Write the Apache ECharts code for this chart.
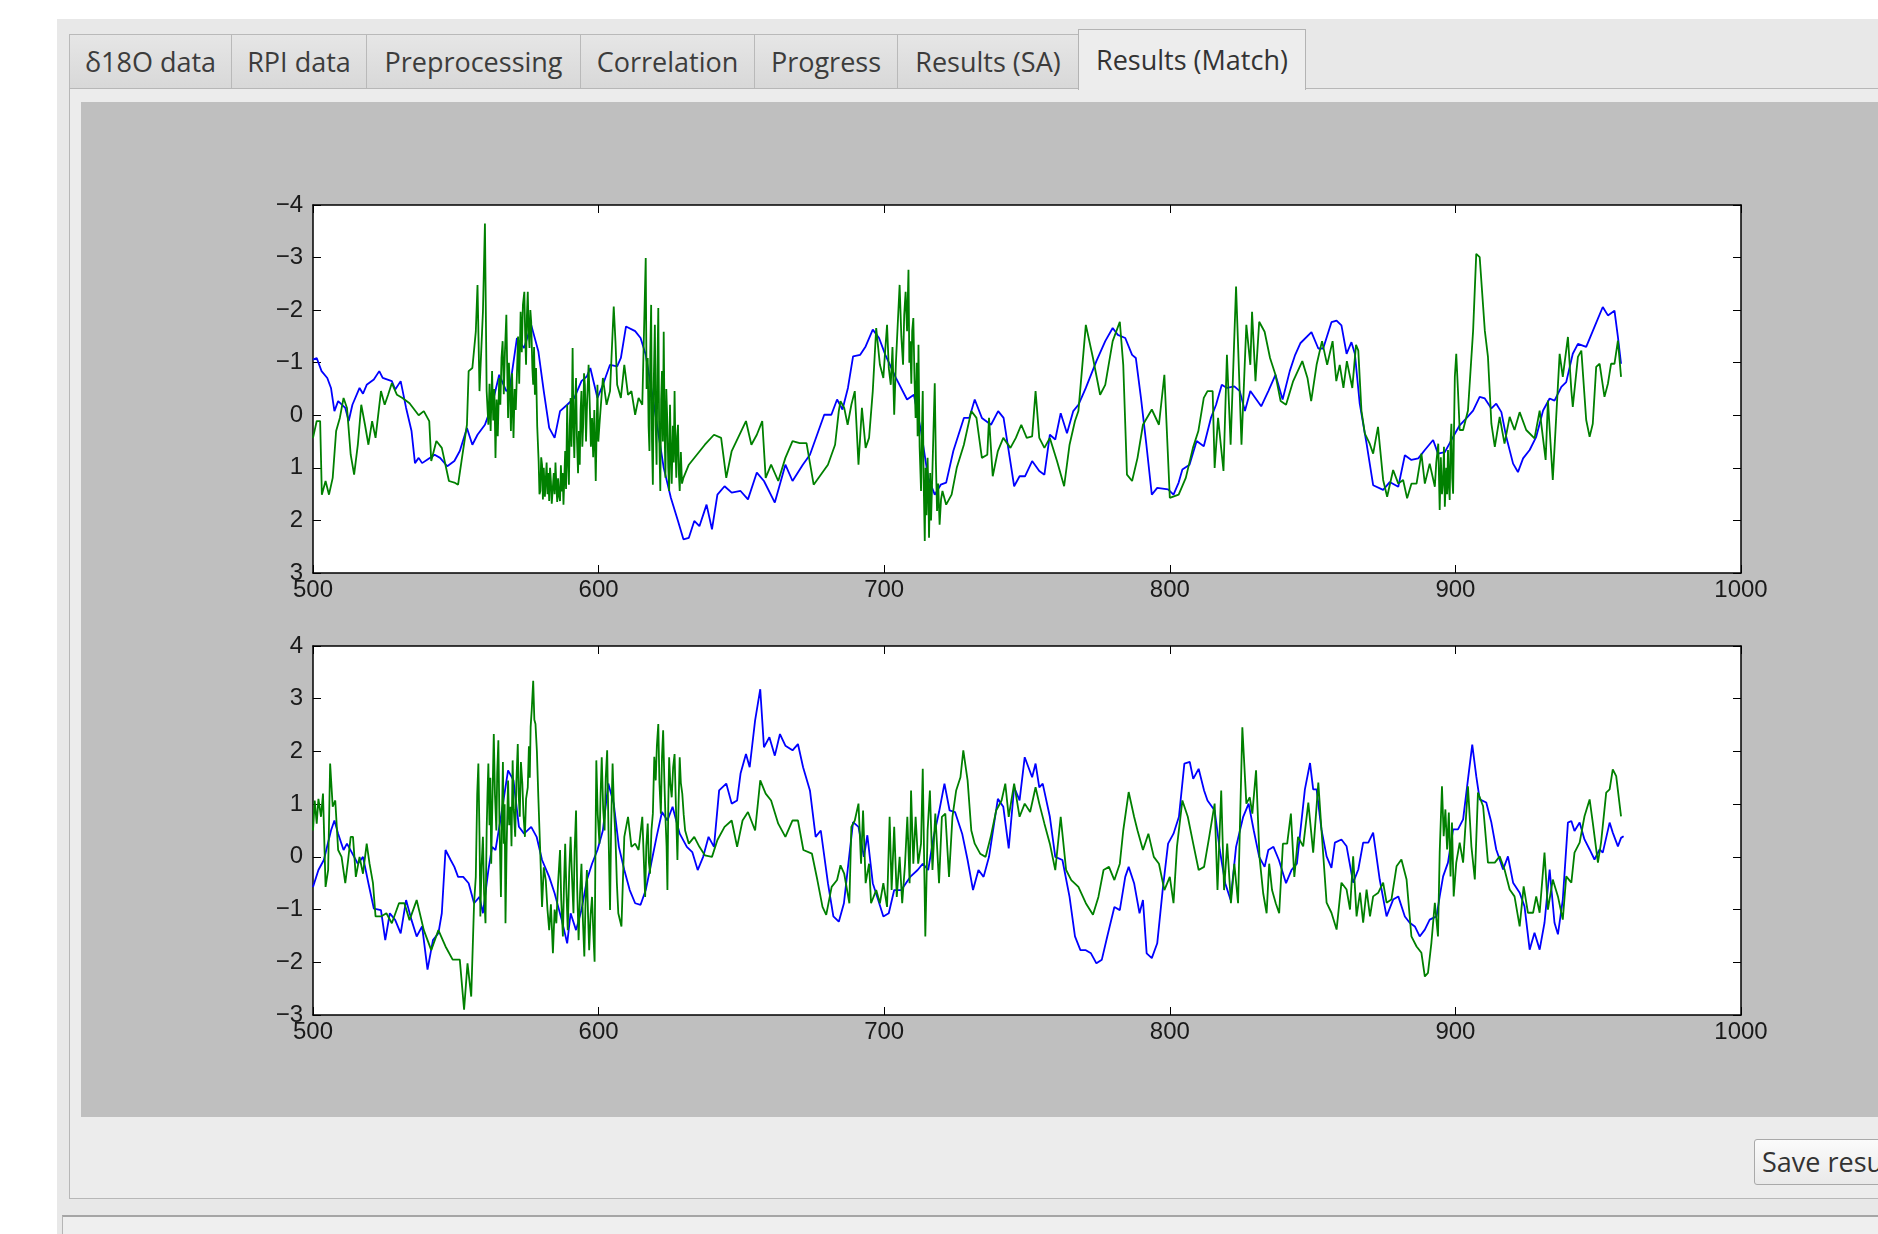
<!DOCTYPE html>
<html>
<head>
<meta charset="utf-8">
<title>Results (Match)</title>
<script src="https://cdn.jsdelivr.net/npm/echarts@6.0.0/dist/echarts.min.js"></script>
<style>
html, body { margin: 0; padding: 0; background: #fff; }
body { width: 1878px; height: 1234px; position: relative; overflow: hidden; font-family: "Open Sans", sans-serif; }
#win { position: absolute; left: 57px; top: 19px; right: 0; bottom: 0; background: #e8e8e8; }
.tab { position: absolute; top: 34px; height: 54px; box-sizing: border-box; border: 1px solid #b9b9b9; border-bottom: none;
  background: linear-gradient(#e6e6e6, #d8d8d8); color: #3c3c3c; font-size: 27px; line-height: 54px; text-align: center; white-space: nowrap; }
.tab.sel { top: 29px; height: 61px; background: #ededed; line-height: 60px; z-index: 2; border-color: #b3b3b3; color: #333; }
#panel { position: absolute; left: 69px; top: 88px; width: 1900px; height: 1111px; box-sizing: border-box; border: 1px solid #b7b7b7; background: #ececec; }
#canvas { position: absolute; left: 81px; top: 102px; width: 1797px; height: 1015px; background: #bfbfbf; }
#btn { position: absolute; left: 1754px; top: 1139px; width: 200px; height: 46px; box-sizing: border-box; border: 1px solid #a9a9a9; border-radius: 3px;
  background: linear-gradient(#fbfbfb, #e9e9e9); color: #333; font-size: 27px; line-height: 44px; padding-left: 7px; white-space: nowrap; }
#status { position: absolute; left: 62px; top: 1215px; width: 1900px; height: 40px; box-sizing: border-box; border-top: 2px solid #a5a5a5; border-left: 1px solid #b5b5b5; background: #efefef; }
</style>
</head>
<body>
<div id="win"></div>
<div class="tab" style="left:69px;width:163px">δ18O data</div>
<div class="tab" style="left:231px;width:136px">RPI data</div>
<div class="tab" style="left:366px;width:215px">Preprocessing</div>
<div class="tab" style="left:580px;width:175px">Correlation</div>
<div class="tab" style="left:754px;width:144px">Progress</div>
<div class="tab" style="left:897px;width:182px">Results (SA)</div>
<div id="panel"></div>
<div class="tab sel" style="left:1078px;width:228px">Results (Match)</div>
<div id="canvas"></div>
<div id="btn">Save results</div>
<div id="status"></div>
<script>
// axis limits
const xTicks = [500, 600, 700, 800, 900, 1000]
const topRange = [-4, 3]
const bottomRange = [-3, 4]

// top panel (inverted y): blue = target record, green = matched record
const topBlue = [[500,-1.06],[501.3,-1.09],[503,-0.84],[505,-0.71],[506.3,-0.52],[507.5,-0.08],[508.8,-0.27],[511.3,-0.14],[512.5,0.11],[513.8,-0.2],[516.3,-0.52],[517.5,-0.41],[518.8,-0.58],[521.3,-0.68],[523.2,-0.84],[524.4,-0.71],[527.6,-0.65],[528.8,-0.49],[530.7,-0.65],[532.6,-0.14],[534.5,0.30],[535.7,0.91],[537,0.81],[538.2,0.91],[540.1,0.84],[542.6,0.75],[544.5,0.81],[547,0.97],[549.5,0.87],[551.4,0.68],[553.9,0.24],[555.8,0.56],[557.6,0.37],[560.2,0.18],[562.7,-0.2],[565.2,-0.77],[567.7,-0.46],[568.9,-0.52],[571.4,-1.47],[573.9,-1.28],[576.4,-1.72],[578.9,-1.22],[580.8,-0.46],[582.7,0.24],[584.6,0.43],[586.5,-0.08],[589,-0.2],[591.5,-0.33],[594,-0.65],[595.9,-0.74],[597.1,-0.9],[599.6,-0.33],[601.5,-0.58],[604,-0.96],[606.5,-0.93],[607.8,-1.09],[609.6,-1.69],[612.8,-1.6],[614.7,-1.47],[616.5,-1.15],[619,-0.33],[622.8,1.0],[625.3,1.57],[627.8,2.01],[629.7,2.36],[631.6,2.33],[633.5,2.01],[635.3,2.11],[637.8,1.70],[639.7,2.17],[641.6,1.51],[644.1,1.35],[646.6,1.47],[649.7,1.44],[652.3,1.6],[655.4,1.09],[657.9,1.25],[661.7,1.66],[665.4,0.94],[667.9,1.25],[671.5,0.94],[674,0.75],[676.5,0.37],[679,-0.01],[681.5,-0.01],[683.5,-0.30],[685.4,-0.11],[687.3,-0.52],[689.1,-1.12],[691.6,-1.15],[693.5,-1.31],[696,-1.63],[698.2,-1.47],[700.4,-1.15],[704.1,-0.71],[708,-0.30],[710.4,-0.39],[712.9,0.30],[715.4,1.19],[717.7,1.51],[719.8,1.32],[721.7,1.28],[724.2,0.68],[727.9,0.05],[729.8,0.05],[731.7,-0.30],[734.2,0.05],[737.4,0.18],[739.9,-0.08],[741.8,0.05],[743.6,0.68],[745.5,1.35],[747.4,1.16],[749.3,1.16],[751.8,0.87],[754.3,1.06],[756.1,1.13],[758,0.37],[759.9,0.46],[761.8,-0.04],[764,0.34],[766.2,-0.08],[768,-0.2],[770.6,-0.52],[774.3,-1.03],[777.4,-1.41],[780,-1.66],[781.8,-1.53],[784.4,-1.47],[786.8,-1.15],[788.1,-1.09],[789.9,-0.33],[791.8,0.56],[793.7,1.51],[795.6,1.38],[799.4,1.41],[801.3,1.51],[803.1,1.28],[804.4,1.03],[806.9,0.94],[809.4,0.49],[811.9,0.59],[814.4,0.05],[816.2,-0.2],[818.2,-0.58],[820,-0.52],[822.6,-0.55],[824.5,-0.46],[826.3,-0.08],[828.2,-0.46],[832,-0.17],[834.5,-0.46],[837,-0.77],[839.5,-0.3],[842,-0.84],[843.9,-1.15],[845.7,-1.37],[849.6,-1.58],[852,-1.27],[853.7,-1.27],[856.6,-1.77],[858.4,-1.8],[860.1,-1.71],[861.9,-1.17],[863.6,-1.39],[864.8,-1.17],[866.5,-0.22],[868.9,0.54],[871.2,1.33],[874.7,1.42],[877,1.27],[880,1.36],[882.3,0.76],[884.6,0.85],[887,0.82],[889.3,0.66],[892.2,0.47],[893.9,0.73],[896.3,0.70],[899.2,0.41],[901.5,0.19],[903.8,0.06],[906.2,-0.09],[908.5,-0.35],[910.3,-0.32],[912.6,-0.13],[914.3,-0.22],[916.1,-0.06],[917.8,0.41],[920.2,0.92],[921.9,1.08],[923.7,0.82],[926,0.66],[928.3,0.41],[930.7,-0.09],[933,-0.32],[934.7,-0.28],[937.1,-0.54],[938.8,-0.63],[941.1,-1.17],[942.9,-1.36],[945.8,-1.3],[948.7,-1.68],[951.6,-2.06],[953.4,-1.9],[955.7,-1.99],[956.9,-1.49],[958,-0.98]]

const topGreen = [[500,0.43],[501.3,0.11],[502.5,0.11],[503.1,1.51],[504.4,1.25],[505.6,1.51],[506.9,1.19],[508.1,0.30],[509.4,0.05],[510.7,-0.33],[511.9,-0.14],[513.2,0.75],[514.4,1.13],[515.7,0.56],[516.9,-0.2],[518.2,0.18],[519.4,0.56],[520.7,0.11],[521.9,0.43],[523.8,-0.46],[525.1,-0.2],[526.3,-0.39],[527.6,-0.61],[529.4,-0.39],[531.3,-0.33],[533.8,-0.23],[537,0],[538.8,-0.08],[540.7,0.11],[541.4,0.87],[543.2,0.49],[545.1,0.62],[547.6,1.25],[549.5,1.28],[550.8,1.32],[552,0.87],[553.9,0.18],[554.5,-0.84],[555.8,-0.90],[557,-1.59],[557.6,-2.48],[558.3,-0.46],[559.5,-1.97],[560.2,-3.65],[560.8,-0.46],[561.4,0.18],[561.8,-0.6],[562.2,0.3],[562.7,-0.84],[563.1,0.1],[563.5,-0.5],[563.9,0.81],[564.3,-0.3],[564.7,0.4],[565.2,-0.71],[565.6,-0.2],[566,-1.1],[566.4,-1.41],[566.8,-0.4],[567.2,-1.2],[567.7,-1.91],[568,-0.9],[568.3,0.05],[568.6,-1.0],[568.9,-0.58],[569.3,0.3],[569.7,-0.8],[570.2,0.43],[570.6,-0.5],[571,-0.1],[571.4,-0.77],[571.8,-1.5],[572.2,-0.6],[572.7,-1.97],[573.1,-1.2],[573.5,-2.1],[574,-2.35],[574.3,-1.5],[574.6,-0.96],[574.9,-1.9],[575.2,-2.35],[575.5,-1.6],[575.8,-1.28],[576.1,-2.0],[576.4,-1.78],[576.8,-0.9],[577.1,-0.58],[577.4,-1.3],[577.7,-0.39],[578.1,-0.9],[578.5,0.2],[579,0.87],[579.3,1.5],[579.6,1.44],[579.9,0.8],[580.2,0.94],[580.5,1.6],[580.8,1.0],[581.2,1.55],[581.5,1.57],[581.8,0.9],[582.1,1.5],[582.4,1.1],[582.7,1.63],[583,1.0],[583.3,1.25],[583.6,1.68],[584,1.70],[584.3,1.1],[584.6,1.5],[584.9,0.9],[585.2,1.32],[585.5,1.65],[585.8,1.2],[586.2,1.55],[586.5,1.63],[586.8,0.95],[587.1,1.45],[587.4,1.1],[587.7,1.70],[588,1.2],[588.3,0.68],[588.6,1.4],[589,-0.2],[589.3,0.9],[589.6,1.32],[589.9,0.2],[590.2,-0.33],[590.5,0.6],[590.9,-1.28],[591.2,0.2],[591.5,0.81],[591.8,-0.2],[592.1,-0.71],[592.4,0.4],[592.8,1.1],[593.1,0.3],[593.4,0.94],[593.7,-0.1],[594,-0.46],[594.3,0.6],[594.6,0.18],[594.9,-0.8],[595.2,-0.58],[595.6,0.5],[596,-0.3],[596.5,-0.96],[596.9,-0.2],[597.3,0.6],[597.7,0.05],[598.1,0.8],[598.5,-0.1],[599,1.25],[599.3,0.3],[599.6,-0.58],[599.9,0.5],[600.3,0.18],[601.5,-0.71],[602.8,-0.2],[604,-0.46],[605.3,-2.07],[605.9,-1.41],[606.5,-0.58],[607.8,-0.33],[609,-0.96],[610.3,-0.39],[611.5,-0.46],[612.8,-0.01],[614,-0.33],[615.3,-0.2],[616.5,-2.99],[616.8,-0.5],[617.2,-1.09],[617.5,0.2],[617.8,0.68],[618.1,-1.2],[618.4,-2.10],[618.7,0.5],[619,1.32],[619.3,-0.6],[619.7,-1.72],[620,0.2],[620.3,0.94],[620.6,-0.9],[620.9,-2.04],[621.2,0.3],[621.6,1.44],[621.9,-0.3],[622.2,-0.84],[622.5,0.5],[622.8,-1.59],[623.1,0.2],[623.4,1.19],[623.7,-0.5],[624.1,0.18],[624.4,1.0],[624.7,1.44],[625,-0.2],[625.3,0.68],[625.6,1.3],[626,0.2],[626.3,0.9],[626.6,-0.46],[626.9,0.6],[627.2,1.19],[627.5,0.4],[627.8,0.18],[628.1,1.1],[628.4,1.44],[628.8,0.7],[629.2,1.3],[629.7,1.19],[631.6,0.94],[637.2,0.56],[640.4,0.37],[642.9,0.43],[644.7,1.19],[646.6,0.68],[651.6,0.11],[653.5,0.56],[655.4,0.37],[657.3,0.11],[658.5,1.19],[660.4,0.94],[662.9,1.25],[665.4,0.81],[667.9,0.49],[670.4,0.53],[672.8,0.53],[675.3,1.32],[677.8,1.13],[680.3,0.94],[682.8,0.56],[684.1,-0.08],[684.7,-0.27],[686,-0.14],[687.2,0.18],[688.5,-0.2],[689.7,-0.46],[691,0.94],[692.2,-0.14],[693.5,0.62],[694.7,0.43],[696,-0.46],[697.2,-1.66],[698.5,-0.96],[699.7,-0.71],[700.3,-1.2],[701,-1.72],[701.6,-0.9],[702.3,-0.58],[702.9,-1.3],[703.5,-0.01],[704.1,-1.0],[704.8,-1.8],[705.4,-2.48],[706,-1.5],[706.6,-0.96],[707,-1.9],[707.5,-2.35],[708,-1.6],[708.5,-2.77],[708.8,-1.0],[709.1,-1.41],[709.5,-0.6],[709.8,-1.6],[710.2,-1.85],[710.6,-0.7],[711,0.05],[711.4,-1.0],[711.7,0.4],[712,-1.34],[712.4,0.6],[712.9,1.44],[713.2,0.3],[713.5,-0.46],[713.8,1.2],[714.2,2.39],[714.5,1.0],[714.8,1.9],[715.2,0.81],[715.5,1.6],[715.7,2.33],[716.1,1.1],[716.4,2.0],[716.7,1.44],[717.2,0.4],[717.7,-0.61],[718.1,0.9],[718.5,1.82],[718.9,1.3],[719.4,2.08],[719.9,1.6],[720.4,1.44],[721.7,1.70],[723.6,1.51],[725.4,1.0],[727.9,0.56],[730.5,-0.08],[732.3,0.05],[734.2,0.81],[736.1,0.75],[736.7,0.05],[738,1.16],[739.8,0.68],[741.7,0.43],[744.2,0.62],[746.1,0.43],[748,0.18],[749.9,0.43],[751.8,0.40],[753,-0.46],[754.3,0.43],[756.1,0.62],[758,0.43],[760.5,0.87],[763,1.35],[764.9,0.56],[766.8,0.11],[768,-0.08],[770.6,-1.72],[773.1,-1.09],[775.6,-0.39],[777.4,-0.58],[780,-1.41],[782.5,-1.78],[783.7,-0.96],[785,1.13],[786.8,1.25],[788.7,0.81],[790.6,0.18],[793.7,-0.11],[796.2,0.18],[798.1,-0.77],[800,1.57],[803.1,1.51],[805.6,1.19],[808.1,0.62],[810,0.30],[811.9,-0.33],[813.2,-0.46],[815,-0.46],[815.7,1.0],[816.9,0.05],[818.8,1.06],[820,-1.15],[821.3,0.56],[823.2,-2.45],[825.1,0.56],[826.8,-1.72],[828.2,-0.96],[828.8,-1.97],[830,-0.65],[831.3,-1.78],[833.2,-1.59],[835.1,-1.09],[837,-0.77],[838.8,-0.27],[840.7,-0.2],[843.2,-0.65],[846.4,-1.03],[848.2,-0.71],[849.5,-0.27],[851.4,-0.96],[853.3,-1.41],[855.1,-0.96],[857,-1.41],[858.3,-0.65],[859.5,-0.96],[860.8,-0.52],[862,-1.03],[863.9,-0.52],[865.2,-1.34],[866,-1.23],[867.1,-0.09],[868.3,0.35],[870,0.54],[871.2,0.73],[872.9,0.22],[874.7,1.23],[876.1,1.55],[878.2,1.04],[880,1.30],[881.7,1.23],[883.1,1.58],[884.6,1.30],[886.4,1.30],[888.1,0.73],[889.3,1.30],[891,0.92],[892.8,1.36],[893.3,0.9],[894,0.54],[894.5,1.8],[894.9,0.8],[895.3,1.5],[895.7,1.23],[896,0.6],[896.3,1.74],[896.8,1.0],[897.1,1.5],[897.4,0.66],[897.7,1.3],[898,1.61],[898.3,0.5],[898.6,0.16],[898.9,1.2],[899.2,1.49],[899.5,0.3],[899.8,-0.73],[900.3,-1.17],[900.9,-0.47],[901.5,0.28],[902.7,0.28],[904.4,-0.09],[906.2,-1.61],[907.3,-3.07],[908.5,-3.01],[910.3,-1.61],[911.4,-1.11],[912.6,0.16],[913.8,0.60],[915.5,0.03],[917.2,0.54],[919,0.03],[920.7,0.28],[922.5,-0.06],[924.8,0.28],[927.7,0.44],[929.5,-0.09],[931.6,0.85],[932.4,-0.28],[934.1,1.23],[935.3,0.03],[936.5,-1.17],[937.6,-0.73],[939.4,-1.49],[940.6,-0.47],[941.1,-0.16],[942.9,-1.11],[944.1,-1.23],[945.8,0.09],[947,0.41],[948.1,0.16],[949.3,-0.92],[950.5,-0.98],[952.2,-0.35],[953.4,-0.60],[954.5,-0.98],[955.7,-0.98],[956.9,-1.42],[958,-0.73]]

// bottom panel
const bottomBlue = [[500,-0.57],[501.9,-0.25],[503.8,-0.06],[506.3,0.50],[507.5,0.69],[508.8,0.44],[510.7,0.13],[511.9,0.25],[513.8,0.06],[515.7,-0.13],[517.5,0],[519.4,-0.50],[521.3,-0.98],[523.8,-1.01],[525.3,-1.58],[526.9,-1.07],[528.8,-1.20],[530.7,-1.45],[532.6,-0.82],[534.5,-1.20],[536.3,-1.51],[538.2,-1.32],[540.1,-2.14],[542,-1.58],[543.9,-1.45],[545.1,-1.07],[546.4,0.13],[548.2,-0.06],[549.5,-0.19],[550.8,-0.38],[552.6,-0.38],[554.5,-0.50],[556.4,-0.88],[558.3,-0.76],[559.5,-1.07],[561.4,-0.25],[562.7,0.19],[563.9,0.13],[565.8,0.76],[568.3,1.64],[570.2,1.45],[572.1,0.57],[573.9,0.44],[576.4,0.57],[578.3,0.38],[580.2,-0.06],[582.7,-0.38],[584.6,-0.69],[587.1,-1.20],[589,-1.64],[590.2,-1.07],[592.1,-1.39],[594,-1.01],[595.9,-0.44],[597.7,-0.13],[599.6,0.13],[601.5,0.50],[603.4,1.39],[605.3,1.01],[607.1,0.19],[609,-0.25],[610.9,-0.63],[612.8,-0.88],[614.7,-0.91],[616.5,-0.63],[618.4,-0.13],[620.3,0.38],[622.2,0.85],[624.1,0.69],[625.9,0.95],[628.4,0.44],[630.9,0.19],[632.8,0.09],[634.7,-0.25],[636.6,0],[638.5,0.38],[640.4,0.19],[642.2,1.26],[644.7,1.39],[646.6,1.01],[648.5,1.07],[649.7,1.58],[651.6,1.95],[652.9,1.70],[654.8,2.59],[656.6,3.18],[657.9,2.08],[659.8,2.27],[661.7,1.92],[663.5,2.33],[665.4,2.11],[667.9,2.02],[669.8,2.14],[671.6,1.70],[674,1.26],[676,0.38],[677.8,0.50],[680.3,-0.50],[682.2,-1.13],[684.1,-1.23],[685.9,-0.88],[687.2,-0.25],[689.1,0.66],[691,0.57],[692.9,0],[694.1,0.41],[696,-0.50],[697.9,-0.82],[699.7,-1.13],[701.6,-1.07],[703.5,-0.63],[706,-0.63],[709.1,-0.38],[711.7,-0.25],[713.5,-0.13],[715.4,-0.25],[717.3,0.38],[719.2,0.85],[721.1,1.39],[722.9,0.88],[724.8,0.85],[727.3,0.44],[729.2,-0.06],[731.1,-0.63],[733,-0.25],[734.8,-0.38],[736.7,0],[739.8,1.10],[741.7,0.95],[743.6,0.16],[745.5,1.32],[747.4,1.07],[749.2,1.89],[751.8,1.51],[753,1.77],[754.3,1.32],[755.5,1.39],[758,0.76],[759.9,0],[762.4,-0.06],[764.9,-0.76],[766.8,-1.51],[768.7,-1.77],[770.6,-1.77],[772.4,-1.83],[774.3,-2.02],[776.2,-1.95],[778.1,-1.51],[780.6,-0.95],[782.5,-1.01],[784.4,-0.38],[785.6,-0.19],[787.5,-0.50],[789.4,-1.07],[790.6,-0.82],[791.9,-1.83],[793.7,-1.92],[795.6,-1.64],[797.5,-0.63],[799.4,0.25],[801.3,0.44],[803.2,0.76],[805.1,1.77],[807,1.80],[808.2,1.48],[810.1,1.67],[812,1.26],[813.2,1.07],[815.7,0.88],[817.5,0.13],[819.4,-0.50],[821.3,-0.82],[823.2,0.19],[825.7,0.76],[827.6,1.01],[829.4,0.50],[831.3,0],[833.2,-0.19],[834.5,0.13],[836.3,0.19],[838.2,-0.06],[840.7,-0.50],[842.6,-0.25],[844.5,-0.13],[847.3,1.28],[849.1,1.78],[850.2,1.28],[851.4,1.28],[853.1,0.52],[854.9,0.01],[856.6,-0.21],[857.8,0.27],[860.1,0.33],[861.9,0.20],[864.2,-0.49],[866,-0.24],[867.7,0.27],[869.5,0.27],[871.2,0.46],[873.5,-0.43],[875.9,-1.13],[878.2,-0.81],[880,-0.75],[882.3,-1.13],[884,-1.25],[885.8,-1.32],[887.5,-1.51],[889.3,-1.38],[891,-1.19],[893.4,-1.13],[894.5,-0.75],[895.7,-0.37],[897.4,-0.11],[899.2,0.52],[900.9,0.52],[902.7,0.71],[904.4,1.47],[905.9,2.13],[907.3,1.53],[908.5,1.09],[910.8,1.03],[912.6,0.65],[914.3,0.14],[916.7,-0.24],[918.4,0.01],[920.2,-0.49],[922.5,-0.68],[924.2,-0.94],[926,-1.76],[927.7,-1.44],[929.5,-1.76],[931.2,-1.25],[933,-0.24],[934.7,-1.25],[935.9,-1.47],[937.6,-0.81],[939.4,0.65],[940.6,0.68],[941.7,0.49],[943.5,0.65],[945.2,0.33],[947,0.14],[948.7,-0.05],[950.5,0.14],[951.6,0.08],[954,0.65],[955.1,0.46],[956.9,0.20],[958,0.36],[958.9,0.39]]

const bottomGreen = [[500,0.50],[500.6,1.07],[501.3,0.63],[501.9,1.10],[502.8,0.76],[503.5,1.20],[504.4,-0.57],[505.3,-0.25],[506,1.77],[506.9,0.95],[507.8,1.07],[508.8,0.13],[510,0],[511.3,-0.50],[512.3,-0.06],[513.2,0.38],[514,0.38],[515,-0.38],[516.3,0],[517.5,-0.32],[518.8,0.25],[519.8,-0.13],[521,-0.50],[521.9,-1.13],[523.8,-1.13],[525.7,-1.07],[527.6,-1.26],[530.1,-0.88],[532,-0.88],[533.8,-1.20],[536.3,-0.82],[538.8,-1.39],[541.4,-1.77],[543.9,-1.39],[546.4,-1.70],[548.9,-1.95],[551.4,-1.95],[552.9,-2.90],[554.1,-2.02],[555.4,-2.65],[556.4,-0.88],[557,-0.38],[557.5,1.2],[557.9,1.77],[558.3,0.4],[558.6,-1.13],[559,-0.2],[559.5,0.38],[559.9,-0.7],[560.4,-1.26],[560.8,0.5],[561.1,1.2],[561.4,1.77],[561.8,0.6],[562.1,1.5],[562.4,-0.13],[562.8,1.0],[563.3,2.33],[563.7,1.2],[564.2,0.50],[564.5,1.6],[564.9,2.21],[565.3,0.6],[565.8,-0.76],[566.2,0.9],[566.5,1.8],[566.8,0.25],[567.1,1.0],[567.4,-1.26],[567.8,0.2],[568.3,1.45],[568.7,0.6],[569.2,0.95],[569.5,0.2],[569.9,1.83],[570.3,0.9],[570.8,0.38],[571.2,1.4],[571.7,2.14],[572,1.2],[572.4,0.76],[572.8,1.8],[573.3,1.39],[573.7,0.8],[574.2,0.38],[574.6,1.1],[575.2,1.32],[575.6,2.1],[575.9,1.5],[576.2,2.46],[576.6,2.8],[577.1,3.34],[577.5,2.6],[577.9,2.52],[578.4,2.0],[578.9,1.13],[579.5,0.2],[580.2,-0.95],[580.8,-0.2],[581.5,-0.44],[582.1,-1.0],[582.7,-1.39],[583.3,-0.9],[584,-1.83],[584.6,-1.0],[585.2,-1.26],[585.8,-0.5],[586.5,0.13],[586.9,-0.8],[587.5,-1.51],[587.9,-0.5],[588.3,0.25],[588.7,-0.6],[589.2,-1.39],[589.7,-0.3],[590.2,0.38],[590.7,-0.4],[591.2,-1.07],[591.6,0.1],[592.1,0.88],[592.5,-0.6],[593,-1.58],[593.5,-0.7],[594,-0.13],[594.5,-1.2],[595,-1.89],[595.4,-0.9],[595.9,-0.25],[596.3,-1.1],[596.7,-1.77],[597.2,-1.1],[597.7,-0.76],[598.2,-1.5],[598.6,-1.99],[598.9,0.2],[599.2,1.83],[599.7,0.8],[600.3,0.25],[600.7,1.2],[601.1,1.89],[601.6,0.9],[602.1,0.50],[602.5,1.5],[603,2.02],[603.5,0.4],[604,-1.01],[604.4,0.6],[604.9,1.77],[605.4,0.9],[605.9,0.38],[606.4,-0.5],[606.9,-1.07],[608,-1.32],[609,0.38],[610.3,0.76],[611.5,0.19],[612.8,0.25],[614,0.13],[615.3,0.76],[615.8,0.0],[616.3,-0.76],[616.7,0.2],[617.2,0.63],[617.6,-0.1],[618,-0.32],[618.5,0.5],[619,0.82],[619.5,1.9],[620,1.45],[620.4,2.1],[620.9,2.52],[621.3,1.4],[621.8,0.82],[622.2,1.9],[622.6,2.40],[623,1.5],[623.4,0.76],[623.8,0.2],[624.1,-0.63],[624.4,1.0],[624.7,1.89],[625.1,1.4],[625.6,1.13],[626.1,1.7],[626.6,1.95],[627.1,0.9],[627.6,-0.06],[628,1.0],[628.4,1.89],[628.8,1.4],[629.3,1.20],[629.8,0.8],[630.3,0.50],[631.6,0.25],[633.5,0.38],[635.3,0.19],[637.2,0.03],[639.7,0],[641.6,0.32],[644.1,0.57],[646.6,0.69],[648.5,0.19],[650.4,0.69],[652.3,0.85],[654.8,0.50],[656.6,1.45],[658.5,1.20],[660.4,1.07],[662.9,0.63],[665.4,0.38],[667.9,0.69],[669.8,0.69],[671.7,0.13],[674.7,0.06],[676.6,-0.44],[678.4,-0.95],[679.7,-1.10],[681.6,-0.57],[683.5,-0.44],[684.7,-0.16],[686,-0.32],[687.8,-0.88],[688.5,0.57],[689.7,0.69],[691,1.01],[691.9,-0.13],[692.6,0.88],[693.5,-0.50],[694.7,-0.13],[695.4,-0.88],[697.2,-0.63],[698.5,-0.88],[699.7,-0.50],[701,-0.95],[701.9,0.76],[702.6,-0.63],[703.5,0.57],[704.4,-0.76],[705.4,0],[706.3,-0.88],[707.3,-0.13],[708.1,0.76],[708.9,-0.50],[709.4,1.26],[710.2,-0.13],[711,0.76],[711.9,-0.13],[712.9,0.25],[713.5,1.67],[714.4,-1.51],[715.2,0.50],[716,1.26],[716.9,-0.25],[717.9,0.82],[719.2,-0.50],[720.2,0.76],[721.4,0.82],[722.7,-0.38],[723.9,0.76],[725.2,1.26],[726.7,1.51],[727.7,2.02],[729.2,1.45],[730.5,0.50],[731.7,0.25],[733.6,0.06],[735.5,0],[737.3,0.38],[739.2,0.88],[741.1,1.07],[742.4,1.39],[743.6,0.76],[745.5,1.39],[747.4,0.76],[749.2,1.01],[751.1,0.85],[753,1.32],[754.3,1.01],[756.1,0.63],[758,0.25],[759.9,-0.25],[761.8,0.76],[763.7,-0.25],[765.5,-0.44],[768,-0.57],[770.6,-0.88],[773.1,-1.10],[775,-0.76],[776.8,-0.25],[778.7,-0.19],[780.6,-0.44],[782.5,-0.13],[783.7,0.50],[785.6,1.23],[787.5,0.76],[788.7,0.50],[790.6,0.13],[792.5,0.44],[794.4,0],[796.2,-0.13],[798.1,-0.63],[800,-0.38],[801.3,-0.88],[802.5,0.19],[804.4,1.07],[806.3,0.76],[808.2,0.25],[810.1,-0.25],[812,-0.19],[813.8,0.38],[815.7,1.01],[816.7,-0.63],[818,1.26],[819,-0.63],[820.1,0.25],[821.4,-0.88],[822.6,-0.13],[823.9,-0.88],[825.4,2.46],[826.8,1.01],[828,1.13],[828.9,0.82],[830.2,1.64],[831.4,0],[832.7,-0.69],[833.9,-1.07],[834.8,-0.13],[835.8,-0.63],[837.1,-0.88],[838.3,-1.07],[839.6,0.25],[841.1,0.25],[842.4,0.82],[843.6,-0.38],[844.9,0.38],[846.7,0.20],[848.5,1.03],[850.2,0.08],[852,1.41],[853.1,0.52],[854.9,-0.87],[856.6,-1.06],[858.4,-1.38],[860.1,-0.49],[861.9,-0.62],[863.1,-1.00],[864.2,0.01],[865.4,-1.13],[866.6,-0.68],[867.7,-1.25],[868.9,-0.62],[870.1,-1.13],[871.2,-0.75],[873,-0.68],[874.7,-0.49],[875.9,-0.87],[877.6,-0.81],[879.4,-0.18],[881.1,-0.05],[882.9,-0.43],[884.6,-1.51],[886.4,-1.70],[888.1,-1.82],[889.3,-2.27],[890.4,-2.20],[891.6,-1.63],[892.8,-0.87],[893.9,-1.51],[894.5,0.08],[895.3,1.34],[895.9,0.39],[896.5,0.90],[897.1,0.14],[897.7,0.84],[898.3,-0.37],[898.8,0.65],[899.4,-0.75],[900.3,-0.11],[901.5,0.27],[902.7,-0.11],[904.4,1.34],[905.6,0.20],[906.8,-0.43],[907.9,1.22],[909.7,0.96],[911.4,-0.11],[913.8,-0.11],[915.5,0.01],[917.2,-0.24],[919,-0.62],[920.7,-0.75],[922.5,-1.32],[923.9,-0.56],[925.4,-1.06],[927.2,-1.06],[928.3,-0.75],[929.5,-1.06],[931.2,0.08],[932.4,-1.00],[934.1,-0.43],[935.9,-0.75],[937.6,-1.19],[938.8,-0.37],[940.6,-0.49],[941.7,0.08],[943.5,0.27],[945.2,0.77],[947,1.09],[948.1,0.65],[949.9,-0.11],[951,0.27],[952.8,1.22],[954,1.28],[955.1,1.66],[956.3,1.53],[958,0.77]]

const chart = echarts.init(document.getElementById('canvas'))

const labelStyle = { fontFamily: 'Liberation Sans', fontSize: 24, color: '#1a1a1a' }
const frameLine = { show: true, onZero: false, lineStyle: { color: '#000', width: 1.5 } }
const tick = { show: true, inside: true, length: 8, lineStyle: { color: '#000', width: 1 } }
const minus = v => (v < 0 ? '\u2212' + (-v) : String(v))

function xAxis(gridIndex, position, withLabels) {
  return {
    type: 'value', gridIndex, position,
    min: xTicks[0], max: xTicks[xTicks.length - 1], interval: 100,
    axisLine: frameLine, axisTick: tick, splitLine: { show: false },
    axisLabel: { show: withLabels, margin: 5, showMinLabel: true, showMaxLabel: true, formatter: v => String(v), ...labelStyle }
  }
}

function yAxis(gridIndex, position, range, inverse, withLabels) {
  return {
    type: 'value', gridIndex, position, inverse,
    min: range[0], max: range[1], interval: 1,
    axisLine: frameLine, axisTick: tick, splitLine: { show: false },
    axisLabel: { show: withLabels, margin: 10, showMinLabel: true, showMaxLabel: true, formatter: minus, ...labelStyle }
  }
}

function line(data, color, xi, yi) {
  return {
    type: 'line', data, xAxisIndex: xi, yAxisIndex: yi,
    showSymbol: false, symbol: 'none', clip: true,
    lineStyle: { color, width: 1.8 }, emphasis: { disabled: true }
  }
}

chart.setOption({
  animation: false,
  grid: [
    { left: 232, top: 103, width: 1428, height: 368, show: true, backgroundColor: '#fff', borderWidth: 0 },
    { left: 232, top: 544, width: 1428, height: 369, show: true, backgroundColor: '#fff', borderWidth: 0 }
  ],
  xAxis: [
    xAxis(0, 'bottom', true), xAxis(0, 'top', false),
    xAxis(1, 'bottom', true), xAxis(1, 'top', false)
  ],
  yAxis: [
    yAxis(0, 'left', topRange, true, true), yAxis(0, 'right', topRange, true, false),
    yAxis(1, 'left', bottomRange, false, true), yAxis(1, 'right', bottomRange, false, false)
  ],
  series: [
    line(topBlue, '#0000ff', 0, 0),
    line(topGreen, '#008000', 0, 0),
    line(bottomBlue, '#0000ff', 2, 2),
    line(bottomGreen, '#008000', 2, 2)
  ]
})
</script>
</body>
</html>
